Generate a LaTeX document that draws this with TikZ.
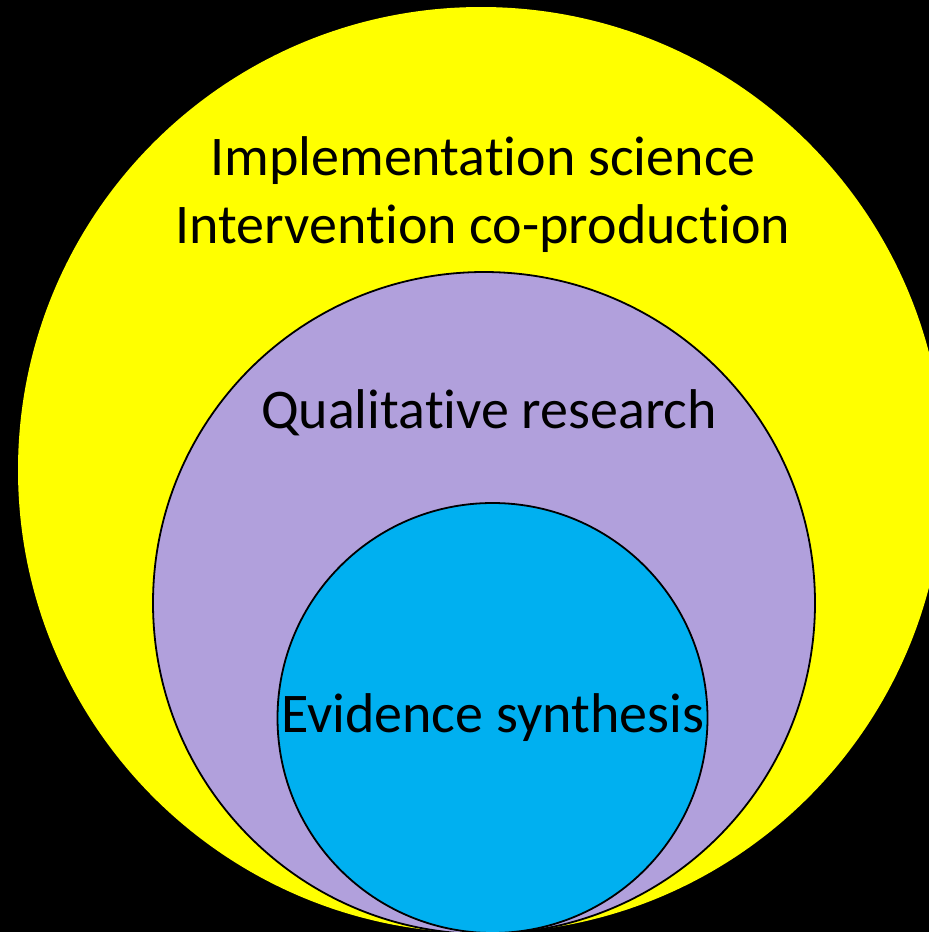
\documentclass[tikz,border=0pt]{standalone}
\usepackage{fontspec}
\setmainfont{Carlito}[RawFeature={-liga;-clig}]
\usetikzlibrary{positioning}
\definecolor{outeryellow}{RGB}{255,255,0}
\definecolor{midpurple}{RGB}{177,160,220}
\definecolor{innerblue}{RGB}{0,176,240}

\begin{document}
\begin{tikzpicture}[x=1pt, y=-1pt, ring/.style={draw=black, line width=1.8pt}, caption/.style={anchor=base, inner sep=0pt, font=\fontsize{56}{68}\selectfont}]

  \fill[black] (0,0) rectangle (929,932);
  \useasboundingbox (0,0) rectangle (929,932);
  \clip (0,0) rectangle (929,932);

  \fill[outeryellow] (481,470) circle (463);
  \draw[ring, fill=midpurple] (484,603) circle (331);
  \draw[ring, fill=innerblue] (492.5,718) circle (215);

  \node[caption] (impl) at (483,175) {Implementation science};
  \node[caption] (coprod) [below=68pt of impl.base, anchor=base] {Intervention co-production};
  \node[caption] (qual) at (489,428) {Qualitative research};
  \node[caption] (evid) at (492.5,732) {Evidence synthesis};
\end{tikzpicture}
\end{document}
